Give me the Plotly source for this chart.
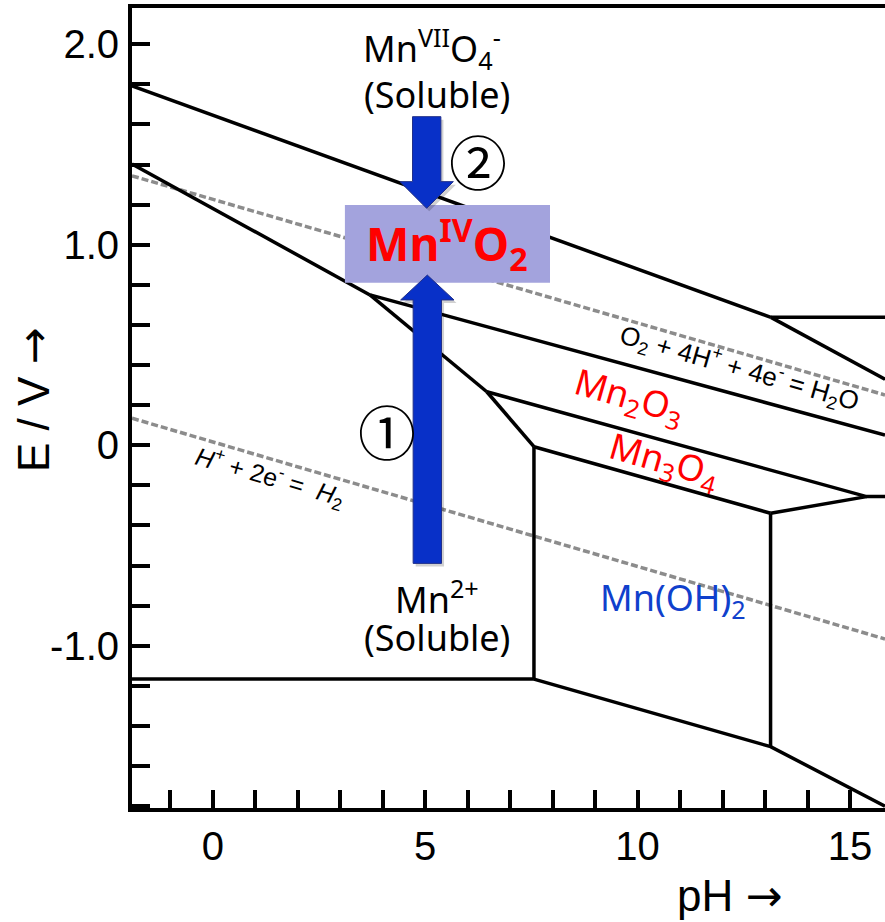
import plotly.graph_objects as go

# ---------------- axes ----------------
X_RANGE = [-1.902, 15.824]
Y_RANGE = [-1.809, 2.181]
x_tickvals = [0, 5, 10, 15]
x_ticktext = ["0", "5", "10", "15"]
y_tickvals = [-1.0, 0.0, 1.0, 2.0]
y_ticktext = ["-1.0", "0", "1.0", "2.0"]

# ---------------- Pourbaix boundaries (pH, E / V) ----------------
mno4_mno2_pH = [-1.902, 13.14]
mno4_mno2_E = [1.792, 0.638]
mno4_mno42_pH = [13.14, 15.824]
mno4_mno42_E = [0.638, 0.638]
mno42_mno2_pH = [13.14, 15.824]
mno42_mno2_E = [0.638, 0.329]
mno2_mn2_pH = [-1.902, 3.70]
mno2_mn2_E = [1.403, 0.750]
mno2_mn2o3_pH = [3.70, 15.824]
mno2_mn2o3_E = [0.750, 0.051]
mn2o3_mn2_pH = [3.70, 6.45]
mn2o3_mn2_E = [0.750, 0.267]
mn2o3_mn3o4_pH = [6.45, 15.39, 15.824]
mn2o3_mn3o4_E = [0.267, -0.256, -0.256]
mn3o4_mn2_pH = [6.45, 7.56]
mn3o4_mn2_E = [0.267, -0.007]
mn2_mnoh2_pH = [7.56, 7.56]
mn2_mnoh2_E = [-0.007, -1.166]
mn2_mn_pH = [-1.902, 7.56]
mn2_mn_E = [-1.166, -1.166]
mnoh2_mn_pH = [7.56, 13.13, 15.824]
mnoh2_mn_E = [-1.166, -1.503, -1.80]
mn3o4_mnoh2_pH = [7.56, 13.13]
mn3o4_mnoh2_E = [-0.007, -0.339]
mnoh2_right_pH = [13.13, 13.13]
mnoh2_right_E = [-0.339, -1.503]
mn3o4_right_pH = [13.13, 15.39]
mn3o4_right_E = [-0.339, -0.256]

# water stability lines
o2_pH = [-1.902, 15.824]
o2_E = [1.344, 0.251]
h2_pH = [-1.902, 15.824]
h2_E = [0.135, -0.966]

solid = [
    (mno4_mno2_pH, mno4_mno2_E), (mno4_mno42_pH, mno4_mno42_E),
    (mno42_mno2_pH, mno42_mno2_E), (mno2_mn2_pH, mno2_mn2_E),
    (mno2_mn2o3_pH, mno2_mn2o3_E), (mn2o3_mn2_pH, mn2o3_mn2_E),
    (mn2o3_mn3o4_pH, mn2o3_mn3o4_E), (mn3o4_mn2_pH, mn3o4_mn2_E),
    (mn2_mnoh2_pH, mn2_mnoh2_E), (mn2_mn_pH, mn2_mn_E),
    (mnoh2_mn_pH, mnoh2_mn_E), (mn3o4_mnoh2_pH, mn3o4_mnoh2_E),
    (mnoh2_right_pH, mnoh2_right_E), (mn3o4_right_pH, mn3o4_right_E),
]

fig = go.Figure()
for px_, ex_ in [(o2_pH, o2_E), (h2_pH, h2_E)]:
    fig.add_trace(go.Scatter(x=px_, y=ex_, mode="lines",
                             line=dict(color="#8C8C8C", width=3.5, dash="7px,3px"),
                             hoverinfo="skip", showlegend=False))
for px_, ex_ in solid:
    fig.add_trace(go.Scatter(x=px_, y=ex_, mode="lines",
                             line=dict(color="black", width=3.5),
                             hoverinfo="skip", showlegend=False))

# ---------------- MnO2 box and arrows ----------------
BOX = dict(x0=3.11, x1=7.938, y0=0.811, y1=1.198)
ARROW_UP = dict(cx=5.05, sw=0.334, hw=0.628, base=-0.589, head=0.725, tip=0.849)
ARROW_DN = dict(cx=5.035, sw=0.334, hw=0.628, base=1.639, head=1.315, tip=1.182)


def arrow_path(a, dx=0.0, dy=0.0):
    cx, sw, hw = a["cx"] + dx, a["sw"], a["hw"]
    b, h, t = a["base"] + dy, a["head"] + dy, a["tip"] + dy
    return (f"M {cx-sw},{b} L {cx+sw},{b} L {cx+sw},{h} "
            f"L {cx+hw},{h} L {cx},{t} L {cx-hw},{h} "
            f"L {cx-sw},{h} Z")


shapes = [
    dict(type="rect", xref="x", yref="y", layer="above",
         fillcolor="#A3A3DD", line=dict(width=0), **BOX),
]
for a in (ARROW_UP, ARROW_DN):
    shapes.append(dict(type="path", xref="x", yref="y", layer="above",
                       path=arrow_path(a, 0.06, -0.015), fillcolor="rgba(0,0,0,0.18)",
                       line=dict(width=0)))
    shapes.append(dict(type="path", xref="x", yref="y", layer="above",
                       path=arrow_path(a), fillcolor="#0830C8",
                       line=dict(color="#22308A", width=1)))

CASUAL = "Noto Sans, DejaVu Sans, sans-serif"
HELV = "Liberation Sans, Arial, sans-serif"
ARROW = "<span style='font-family:DejaVu Sans'>→</span>"

annotations = [
    dict(x=5.16, y=1.98, text="Mn<sup>VII</sup>O<sub>4</sub><sup>-</sup>",
         font=dict(family=CASUAL, size=36, color="black")),
    dict(x=5.28, y=1.752, text="(Soluble)",
         font=dict(family=CASUAL, size=36, color="black")),
    dict(x=6.24, y=1.422, text="②",
         font=dict(family="Noto Sans CJK JP", size=58, color="black")),
    dict(x=5.51, y=1.004, text="<b>Mn<sup>IV</sup>O<sub>2</sub></b>",
         font=dict(family=CASUAL, size=46, color="#FF0000")),
    dict(x=4.094, y=0.076, text="①",
         font=dict(family="Noto Sans CJK JP", size=58, color="black")),
    dict(x=5.27, y=-0.757, text="Mn<sup>2+</sup>",
         font=dict(family=CASUAL, size=36, color="black")),
    dict(x=5.27, y=-0.961, text="(Soluble)",
         font=dict(family=CASUAL, size=36, color="black")),
    dict(x=10.83, y=-0.767, text="Mn(OH)<sub>2</sub>",
         font=dict(family=CASUAL, size=36, color="#1040CC")),
    dict(x=9.80, y=0.236, text="Mn<sub>2</sub>O<sub>3</sub>", textangle=16,
         font=dict(family=CASUAL, size=36, color="#FF0000")),
    dict(x=10.62, y=-0.083, text="Mn<sub>3</sub>O<sub>4</sub>", textangle=16,
         font=dict(family=CASUAL, size=36, color="#FF0000")),
    dict(x=12.41, y=0.386,
         text="O<sub>2</sub> + 4H<sup>+</sup> + 4e<sup>-</sup> = H<sub>2</sub>O",
         textangle=16, font=dict(family=HELV, size=26, color="black")),
    dict(x=1.346, y=-0.158,
         text="<i>H</i><sup>+</sup> + 2e<sup>-</sup> =  <i>H</i><sub>2</sub>",
         textangle=16, font=dict(family=HELV, size=25, color="black")),
]
for a in annotations:
    a.update(xref="x", yref="y", showarrow=False, xanchor="center", yanchor="middle")

annotations += [
    dict(xref="paper", yref="paper", x=-0.1315, y=0.51, text="E / V " + ARROW,
         textangle=-90, showarrow=False, xanchor="center", yanchor="middle",
         font=dict(family=HELV, size=44, color="black")),
    dict(xref="paper", yref="paper", x=0.793, y=-0.109, text="pH " + ARROW,
         showarrow=False, xanchor="center", yanchor="middle",
         font=dict(family=HELV, size=44, color="black")),
]

axis_common = dict(showline=True, linewidth=4, linecolor="black",
                   ticks="inside", ticklen=18, tickwidth=3.5, tickcolor="black",
                   showgrid=False, zeroline=False,
                   tickfont=dict(family=HELV, size=40, color="black"))

fig.update_layout(
    width=885, height=922,
    margin=dict(l=132, r=0, t=8, b=114),
    paper_bgcolor="white", plot_bgcolor="white",
    shapes=shapes, annotations=annotations,
    xaxis=dict(range=X_RANGE, tickmode="array", tickvals=x_tickvals,
               ticktext=x_ticktext, mirror=True, ticklabelstandoff=0,
               minor=dict(ticks="inside", ticklen=18, tickwidth=3.5,
                          tickcolor="black", dtick=1, tick0=0),
               **axis_common),
    yaxis=dict(range=Y_RANGE, tickmode="array", tickvals=y_tickvals,
               ticktext=y_ticktext, mirror=False, ticklabelstandoff=1,
               minor=dict(ticks="inside", ticklen=18, tickwidth=3.5,
                          tickcolor="black", dtick=0.2, tick0=0),
               **axis_common),
)

fig.write_html("out.html")
